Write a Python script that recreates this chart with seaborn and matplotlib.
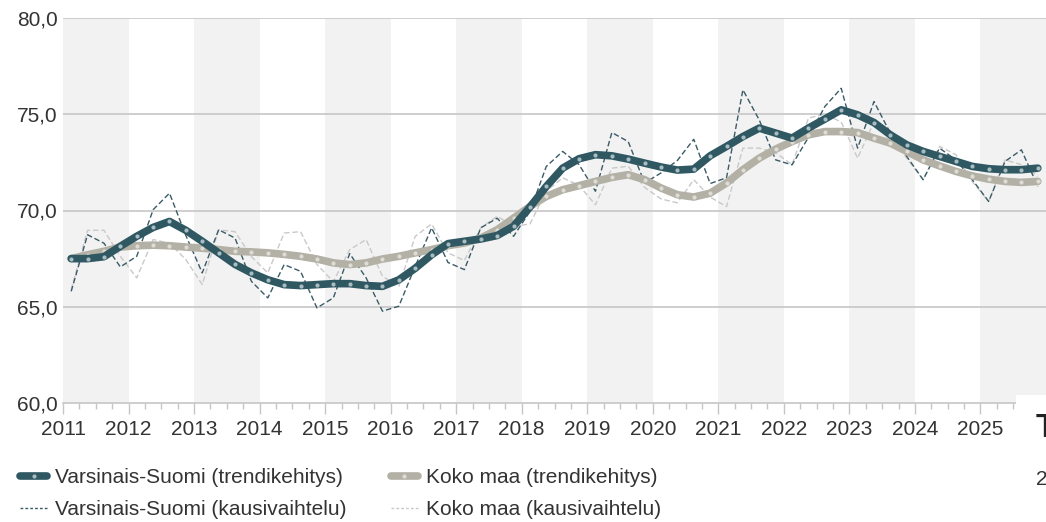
import matplotlib
matplotlib.use("Agg")
import matplotlib.pyplot as plt
import numpy as np
import pandas as pd
import seaborn as sns
from matplotlib.lines import Line2D
from matplotlib.patches import Rectangle
from matplotlib.ticker import MultipleLocator, FixedLocator

# ---------------- data ----------------
years = list(range(2011, 2026))
quarters = [f"{y}Q{q}" for y in years for q in range(1, 5)]

vs_trend = [67.5, 67.5, 67.6, 68.14, 68.66, 69.12, 69.43, 68.97, 68.4, 67.8,
            67.2, 66.76, 66.4, 66.15, 66.1, 66.15, 66.2, 66.2, 66.1, 66.06,
            66.4, 67.0, 67.7, 68.28, 68.4, 68.52, 68.7, 69.18, 70.18, 71.25,
            72.2, 72.69, 72.9, 72.84, 72.67, 72.46, 72.26, 72.1, 72.15, 72.84,
            73.33, 73.84, 74.28, 74.02, 73.76, 74.28, 74.75, 75.23, 74.97, 74.57,
            73.93, 73.41, 73.07, 72.81, 72.55, 72.29, 72.17, 72.12, 72.12, 72.2]

km_trend = [67.5, 67.7, 67.88, 68.1, 68.17, 68.2, 68.17, 68.1, 68.04, 67.97,
            67.88, 67.85, 67.8, 67.72, 67.62, 67.48, 67.28, 67.19, 67.28, 67.48,
            67.62, 67.8, 67.97, 68.17, 68.31, 68.57, 69.0, 69.6, 70.21, 70.73,
            71.08, 71.29, 71.51, 71.72, 71.86, 71.6, 71.17, 70.82, 70.7, 70.9,
            71.43, 72.12, 72.72, 73.19, 73.58, 73.93, 74.1, 74.1, 74.05, 73.76,
            73.5, 73.07, 72.63, 72.32, 72.03, 71.8, 71.63, 71.51, 71.46, 71.51]

vs_season = [65.8, 68.74, 68.3, 67.07, 67.62, 70.04, 70.9, 68.7, 66.76, 69.0,
             68.57, 66.32, 65.46, 67.19, 66.84, 64.94, 65.46, 67.76, 66.5, 64.77,
             65.03, 67.1, 69.1, 67.3, 66.93, 69.1, 69.6, 68.66, 69.95, 72.29,
             73.07, 72.38, 71.0, 74.05, 73.58, 71.43, 71.95, 72.6, 73.7, 71.4,
             71.7, 76.27, 74.7, 72.63, 72.37, 73.8, 75.4, 76.35, 73.24, 75.66,
             74.02, 72.81, 71.6, 73.24, 72.63, 71.6, 70.47, 72.55, 73.15, 71.25]

km_season = [65.9, 68.97, 68.97, 67.62, 66.5, 68.49, 68.3, 67.45, 66.15, 69.0,
             68.9, 67.6, 66.76, 68.83, 68.9, 67.2, 66.3, 67.97, 68.49, 66.58,
             66.06, 68.66, 69.3, 67.8, 67.4, 69.1, 69.7, 69.18, 69.3, 71.0,
             71.7, 71.3, 70.3, 72.2, 72.3, 71.2, 70.6, 70.4, 71.6, 70.7,
             70.2, 73.24, 73.24, 73.0, 72.38, 74.8, 75.0, 74.6, 72.72, 74.6,
             74.0, 72.72, 71.6, 73.33, 72.9, 71.5, 70.47, 72.63, 72.38, 71.77]

labels = ["Varsinais-Suomi (trendikehitys)", "Koko maa (trendikehitys)",
          "Varsinais-Suomi (kausivaihtelu)", "Koko maa (kausivaihtelu)"]
y_ticks = [60, 65, 70, 75, 80]

# ---------------- style ----------------
sns.set_theme(style="white")
plt.rcParams['font.family'] = ['Liberation Sans', 'DejaVu Sans']

DARK = '#2f5863'
BEIGE = '#b3b1a5'
DARK_DOT = '#a9bcc1'
BEIGE_DOT = '#dedcd5'
DARK_DASH = '#3a5b66'
LIGHT_DASH = '#c9c9c9'
GRID = '#c6c6c6'
TXT = '#333333'

W, H = 1046, 522
fig = plt.figure(figsize=(W / 100, H / 100), dpi=100)
ax = fig.add_axes([63 / W, 1 - 403 / H, 1 - 63 / W, (403 - 18) / H])

xpos = [int(q[:4]) + (int(q[-1]) - 0.5) / 4 for q in quarters]
df = pd.DataFrame({"x": xpos, "vs_trend": vs_trend, "km_trend": km_trend,
                   "vs_season": vs_season, "km_season": km_season})

# year stripes
for y in years[::2]:
    ax.axvspan(y, y + 1, color='#f2f2f2', lw=0, zorder=0)
for v in y_ticks[1:]:
    ax.axhline(v, color=GRID, lw=1.2, zorder=1)

sns.lineplot(data=df, x="x", y="km_season", ax=ax, color=LIGHT_DASH, lw=1.0,
             linestyle=(0, (4, 2)), zorder=2, legend=False)
sns.lineplot(data=df, x="x", y="vs_season", ax=ax, color=DARK_DASH, lw=1.0,
             linestyle=(0, (4, 2)), zorder=2.5, legend=False)
sns.lineplot(data=df, x="x", y="km_trend", ax=ax, color=BEIGE, lw=5.5,
             marker='o', markersize=3, markerfacecolor=BEIGE_DOT,
             markeredgewidth=0, zorder=3, legend=False, solid_capstyle='round')
sns.lineplot(data=df, x="x", y="vs_trend", ax=ax, color=DARK, lw=5.5,
             marker='o', markersize=3, markerfacecolor=DARK_DOT,
             markeredgewidth=0, zorder=4, legend=False, solid_capstyle='round')

ax.set_xlim(2011, 2026)
ax.set_ylim(60, 80)
ax.set_xlabel("")
ax.set_ylabel("")
for s in ['top', 'right', 'left']:
    ax.spines[s].set_visible(False)
ax.spines['bottom'].set_color(GRID)
ax.spines['bottom'].set_linewidth(1.2)

ax.xaxis.set_major_locator(FixedLocator(years))
ax.set_xticklabels([str(y) for y in years])
ax.xaxis.set_minor_locator(MultipleLocator(0.25))
ax.tick_params(axis='x', which='major', bottom=True, length=8, width=1, color=GRID,
               labelsize=15, labelcolor=TXT, pad=4)
ax.tick_params(axis='x', which='minor', bottom=True, length=4.5, width=1, color=GRID)
ax.set_yticks(y_ticks)
ax.set_yticklabels([f"{v:.1f}".replace('.', ',') for v in y_ticks])
ax.tick_params(axis='y', length=0, labelsize=15, labelcolor=TXT, pad=4)

# legend
handles = [
    Line2D([], [], color=DARK, lw=5.5, marker='o', ms=3, mfc=DARK_DOT, mew=0,
           solid_capstyle='round'),
    Line2D([], [], color=DARK_DASH, lw=1.0, linestyle=(0, (2, 1.5))),
    Line2D([], [], color=BEIGE, lw=5.5, marker='o', ms=3, mfc=BEIGE_DOT, mew=0,
           solid_capstyle='round'),
    Line2D([], [], color=LIGHT_DASH, lw=1.0, linestyle=(0, (2, 1.5))),
]
leg_labels = [labels[0], labels[2], labels[1], labels[3]]
leg = fig.legend(handles, leg_labels, ncol=2, loc='upper left',
                 bbox_to_anchor=(20 / W, 1 - 468 / H), frameon=False, fontsize=15,
                 handlelength=1.3, handletextpad=0.4, columnspacing=2.1,
                 labelspacing=0.64, borderpad=0, borderaxespad=0)
for t in leg.get_texts():
    t.set_color(TXT)

# white box at the bottom right with cut-off text (as in the reference)
fig.patches.append(Rectangle((1016 / W, 0), 1, (H - 395) / H, transform=fig.transFigure,
                             facecolor='white', edgecolor='none', zorder=5))
fig.text(1036 / W, 1 - 437 / H, "T", fontsize=24, fontweight='bold', color='#222222',
         ha='left', va='baseline', zorder=6)
fig.text(1036 / W, 1 - 485 / H, "2", fontsize=15, color=TXT,
         ha='left', va='baseline', zorder=6)

fig.savefig("out.png", dpi=100)
